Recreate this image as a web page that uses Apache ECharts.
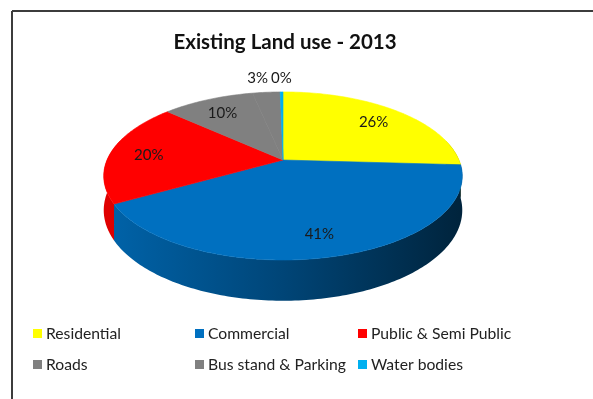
<!DOCTYPE html>
<html><head><meta charset="utf-8">
<script src="https://cdn.jsdelivr.net/npm/echarts@6/dist/echarts.min.js"></script>
<style>html,body{margin:0;padding:0;background:#fff}#c{width:593px;height:399px}</style>
</head><body><div id="c"></div>
<script>
// ---- data ----
const categories = ['Residential', 'Commercial', 'Public & Semi Public', 'Roads', 'Bus stand & Parking', 'Water bodies'];
const values = [26, 41, 20, 10, 3, 0.3];
const colors = ['#FFFF00', '#0070C0', '#FF0000', '#808080', '#808080', '#00B0F0'];
const titleText = 'Existing Land use - 2013';

// ---- layout / style ----
const FONT = 'Lato';
const LABEL_SIZE = 15, LEGEND_SIZE = 15.7, TITLE_SIZE = 20.5;
const G = { cx: 283, cy: 160, S: 176, A: 81, k: 0.19, T: 33 };

const total = values.reduce((a, b) => a + b, 0);
const starts = []; let acc = 0; values.forEach(v => { starts.push(acc); acc += v; });
const angOf = f => f * 2 * Math.PI; // clockwise from the far (top) side

function proj(X, Z, d) { const w = 1 + G.k * Z; return [G.cx + G.S * X / w, G.cy - G.A * Z / w + d * G.T / w]; }
function rim(t, r, d) { return proj(r * Math.sin(t), r * Math.cos(t), d); }
function shade(hex, f) {
  const n = parseInt(hex.slice(1), 16);
  const r = Math.round(((n >> 16) & 255) * f), g = Math.round(((n >> 8) & 255) * f), b = Math.round((n & 255) * f);
  return 'rgb(' + r + ',' + g + ',' + b + ')';
}
const mctx = document.createElement('canvas').getContext('2d');
function textW(t, size) { mctx.font = size + 'px ' + FONT; return mctx.measureText(t).width; }

// label positions computed from the data angles
const labels = values.map((v, i) => {
  const pct = Math.round(v / total * 100);
  const tm = angOf((starts[i] + v / 2) / total);
  const inside = pct >= 5;
  const p = rim(tm, inside ? 0.78 : 1.25, 0);
  return { text: pct + '%', x: p[0], y: p[1] + (inside ? 2 : 0), inside: inside, w: textW(pct + '%', LABEL_SIZE) };
});
// resolve overlap of outside labels (shift earlier ones left)
const outs = labels.filter(l => !l.inside);
for (let j = outs.length - 2; j >= 0; j--) {
  const a = outs[j], b = outs[j + 1];
  const maxX = b.x - b.w / 2 - 3 - a.w / 2;
  if (a.x > maxX) a.x = maxX;
  if (Math.abs(a.y - b.y) < 12) a.y = b.y;
}

const seriesData = values.map((v, i) => ({ value: [i, v], name: categories[i] }));

function sliceAngles(i) {
  return [angOf(starts[i] / total), angOf((starts[i] + values[i]) / total)];
}

const FRONT0 = Math.acos(0.25), FRONT1 = 2 * Math.PI - Math.acos(0.25);
function renderWall(params, api) {
  const i = params.dataIndex;
  let [t0, t1] = sliceAngles(i);
  t0 = Math.max(t0, FRONT0); t1 = Math.min(t1, FRONT1);
  if (t1 <= t0) return { type: 'group', children: [] };
  const n = Math.max(2, Math.ceil((t1 - t0) / (Math.PI / 180)));
  const topPts = [], botPts = [];
  for (let j = 0; j <= n; j++) {
    const t = t0 + (t1 - t0) * j / n;
    topPts.push(rim(t, 1, 0)); botPts.push(rim(t, 1, 1));
  }
  const pts = topPts.concat(botPts.reverse());
  const grad = {
    type: 'linear', x: G.cx - G.S, y: 0, x2: G.cx + G.S, y2: 0, global: true,
    colorStops: [
      { offset: 0, color: shade(colors[i], 0.88) },
      { offset: 0.5, color: shade(colors[i], 0.62) },
      { offset: 1, color: shade(colors[i], 0.32) }
    ]
  };
  return { type: 'polygon', shape: { points: pts }, style: { fill: grad } };
}

function renderTop(params, api) {
  const i = params.dataIndex;
  const [t0, t1] = sliceAngles(i);
  const n = Math.max(2, Math.ceil((t1 - t0) / (Math.PI / 180)));
  const pts = [proj(0, 0, 0)];
  for (let j = 0; j <= n; j++) pts.push(rim(t0 + (t1 - t0) * j / n, 1, 0));
  const lb = labels[i];
  return {
    type: 'group',
    children: [
      { type: 'polygon', shape: { points: pts }, style: { fill: colors[i], stroke: colors[i], lineWidth: 0.6 } },
      { type: 'text', z2: 10, style: { text: lb.text, x: lb.x, y: lb.y, align: 'center', verticalAlign: 'middle',
        fontFamily: FONT, fontSize: LABEL_SIZE, fill: '#1a1a1a' } }
    ]
  };
}

// legend built from the categories
const legendCols = [33, 195, 358];
const legendRows = [333.5, 364.5];
const legendEls = [];
categories.forEach((name, i) => {
  const x = legendCols[i % 3], y = legendRows[Math.floor(i / 3)];
  legendEls.push({ type: 'rect', shape: { x: x, y: y - 4.5, width: 9, height: 9 }, style: { fill: colors[i] } });
  legendEls.push({ type: 'text', style: { text: name, x: x + 13, y: y, verticalAlign: 'middle', align: 'left',
    fontFamily: FONT, fontSize: LEGEND_SIZE, fill: '#222' } });
});

const chart = echarts.init(document.getElementById('c'), null, { renderer: 'canvas' });
chart.setOption({
  animation: false,
  backgroundColor: '#fff',
  graphic: [
    { type: 'line', shape: { x1: 12, y1: 11, x2: 593, y2: 11 }, style: { stroke: '#3c3c3c', lineWidth: 2 } },
    { type: 'line', shape: { x1: 12, y1: 11, x2: 12, y2: 399 }, style: { stroke: '#3c3c3c', lineWidth: 2 } },
    { type: 'text', style: { text: titleText, x: 285, y: 42, align: 'center', verticalAlign: 'middle',
      fontFamily: FONT, fontWeight: 'bold', fontSize: TITLE_SIZE, fill: '#111' } }
  ].concat(legendEls),
  series: [
    { type: 'custom', name: 'walls', coordinateSystem: 'none', renderItem: renderWall, data: seriesData, z: 1, silent: true },
    { type: 'custom', name: 'tops', coordinateSystem: 'none', renderItem: renderTop, data: seriesData, z: 2, silent: true }
  ]
});
</script>
</body></html>
